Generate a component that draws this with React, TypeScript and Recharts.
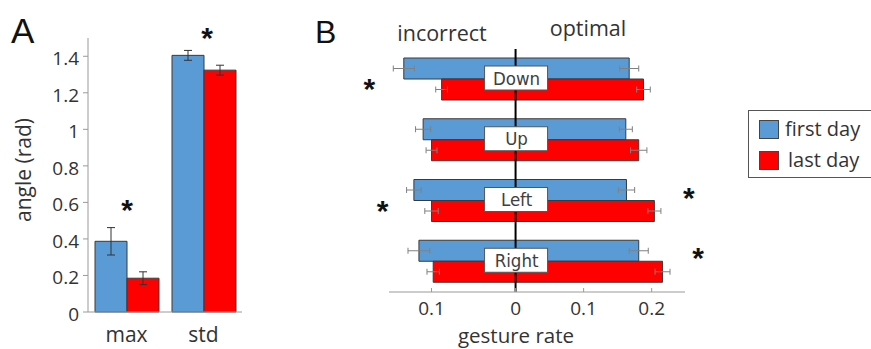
import React from 'react';
import { BarChart, Bar, XAxis, YAxis, ErrorBar, LabelList, ReferenceLine, Legend } from 'recharts';

const BLUE = '#5B9BD5';
const RED = '#FF0000';
const TEXT = '#333333';
const AXIS = '#9a9a9a';
const FONT = "'Open Sans', sans-serif";

// panel A: joint angle
const measures = ['max', 'std'];
const firstDayAngle = [0.387, 1.405];
const firstDayAngleErr = [0.075, 0.027];
const lastDayAngle = [0.185, 1.324];
const lastDayAngleErr = [0.035, 0.027];
const angleSignificant = [true, true];
const angleTicks = [0, 0.2, 0.4, 0.6, 0.8, 1, 1.2, 1.4];

// panel B: gesture rate per direction
const directions = ['Down', 'Up', 'Left', 'Right'];
const firstIncorrect = [0.133, 0.11, 0.121, 0.115];
const firstIncorrectErr = [0.0125, 0.009, 0.0087, 0.013];
const lastIncorrect = [0.088, 0.1, 0.1, 0.098];
const lastIncorrectErr = [0.007, 0.0065, 0.008, 0.0074];
const firstOptimal = [0.167, 0.162, 0.163, 0.181];
const firstOptimalErr = [0.014, 0.0096, 0.012, 0.014];
const lastOptimal = [0.188, 0.181, 0.204, 0.216];
const lastOptimalErr = [0.01, 0.012, 0.0096, 0.011];
const incorrectSignificant = [true, false, true, false];
const optimalSignificant = [false, false, true, true];
const incorrectTicks = [0.1];
const optimalTicks = [0, 0.1, 0.2];

// the incorrect half of the axis is drawn wider than the optimal half in the figure
const INCORRECT_SCALE = 1.235;

const legendItems = [
  { label: 'first day', color: BLUE },
  { label: 'last day', color: RED },
];

const angleData = measures.map((name, i) => ({
  name,
  firstDay: firstDayAngle[i],
  firstDayErr: firstDayAngleErr[i],
  lastDay: lastDayAngle[i],
  lastDayErr: lastDayAngleErr[i],
  sig: angleSignificant[i],
}));

const rateData = directions.map((name, i) => ({
  name,
  firstIncorrect: -firstIncorrect[i] * INCORRECT_SCALE,
  firstIncorrectErr: firstIncorrectErr[i] * INCORRECT_SCALE,
  lastIncorrect: -lastIncorrect[i] * INCORRECT_SCALE,
  lastIncorrectErr: lastIncorrectErr[i] * INCORRECT_SCALE,
  firstOptimal: firstOptimal[i],
  firstOptimalErr: firstOptimalErr[i],
  lastOptimal: lastOptimal[i],
  lastOptimalErr: lastOptimalErr[i],
  incorrectSig: incorrectSignificant[i],
  optimalSig: optimalSignificant[i],
}));

const rateTicks = [...incorrectTicks.map(t => -t * INCORRECT_SCALE), ...optimalTicks];

const formatRate = (v: number) => {
  if (v < 0) return (-v / INCORRECT_SCALE).toFixed(1);
  return String(v);
};

const Star = ({ x, y }: { x: number; y: number }) => (
  <text x={x} y={y + 12} textAnchor="middle" fontFamily="'Liberation Sans', sans-serif" fontWeight="bold" fontSize={30} fill="#111">
    *
  </text>
);

const getBox = (props: any) => {
  const vb = props.viewBox ?? props;
  return { x: vb.x ?? props.x, y: vb.y ?? props.y, width: vb.width ?? props.width, height: vb.height ?? props.height };
};

const renderAngleStar = (props: any) => {
  const { x, y, width, height } = getBox(props);
  const row = angleData[props.index];
  if (!row || !row.sig) return null;
  const unit = height / row.firstDay;
  const top = y - unit * row.firstDayErr;
  // the star over the tall pair sits closer to its error bar
  return <Star x={x + width + (row.firstDay > 1 ? 3 : 0)} y={top - 20 + (row.firstDay > 1 ? 6 : 0)} />;
};

const renderDirectionMarks = (props: any) => {
  const { x, y, width } = getBox(props);
  const row = rateData[props.index];
  if (!row) return null;
  const unit = width / row.lastOptimal;
  const leftEnd = x - unit * Math.max(-row.firstIncorrect + row.firstIncorrectErr, -row.lastIncorrect + row.lastIncorrectErr);
  const rightEnd = x + unit * Math.max(row.firstOptimal + row.firstOptimalErr, row.lastOptimal + row.lastOptimalErr);
  return (
    <g>
      <rect x={x - 31} y={y - 13} width={63} height={24} fill="#fff" stroke="#555" strokeWidth={1} />
      <text x={x + 1} y={y - 1} textAnchor="middle" dominantBaseline="central" fontFamily="'DejaVu Sans Condensed', 'Open Sans', sans-serif" fontSize={18.5} fill="#404040">
        {row.name}
      </text>
      {row.incorrectSig && <Star x={leftEnd - 24} y={y + 8} />}
      {row.optimalSig && <Star x={rightEnd + 28} y={y - 5} />}
    </g>
  );
};

const renderLegend = () => (
  <div style={{ position: 'relative', width: 140, height: 68, border: '1.5px solid #555', boxSizing: 'border-box', background: '#fff', fontFamily: FONT }}>
    {legendItems.map((item, i) => (
      <React.Fragment key={item.label}>
        <div style={{ position: 'absolute', left: 9.5, top: 9 + i * 31, width: 20, height: 19, background: item.color, border: '1px solid #444', boxSizing: 'border-box' }} />
        <div style={{ position: 'absolute', left: 36 + i * 3, top: 8 + i * 31, fontSize: 20, lineHeight: '20px', color: TEXT, whiteSpace: 'nowrap' }}>
          {item.label}
        </div>
      </React.Fragment>
    ))}
  </div>
);

const App: React.FC = () => {
  return (
    <div style={{ position: 'absolute', left: 0, top: 0, width: 871, height: 349, overflow: 'hidden', background: '#fff', fontFamily: FONT }}>
      <div style={{ position: 'absolute', left: 0, top: 0 }}>
        <BarChart width={260} height={349} data={angleData} barCategoryGap={7} barGap={0} margin={{ top: 38, right: 18, bottom: 0, left: 0 }}>
          <XAxis dataKey="name" stroke={AXIS} tickLine={false} tickSize={0} tickMargin={15} height={37} tick={{ fill: TEXT, fontSize: 21, fontFamily: FONT }} />
          <YAxis type="number" domain={[0, 1.5]} ticks={angleTicks} width={88} stroke={AXIS} tickSize={5} tickMargin={4} tick={{ fill: TEXT, fontSize: 19, fontFamily: FONT, dy: 2 }} />
          <Bar dataKey="firstDay" fill={BLUE} stroke="#3a3a3a" strokeWidth={1} isAnimationActive={false}>
            <ErrorBar dataKey="firstDayErr" width={4} stroke="#333" strokeWidth={1} isAnimationActive={false} />
            <LabelList dataKey="firstDay" content={renderAngleStar} />
          </Bar>
          <Bar dataKey="lastDay" fill={RED} stroke="#3a3a3a" strokeWidth={1} isAnimationActive={false}>
            <ErrorBar dataKey="lastDayErr" width={4} stroke="#333" strokeWidth={1} isAnimationActive={false} />
          </Bar>
          <text x={11} y={43} fontFamily="'Liberation Sans', sans-serif" fontSize={35} fill="#111">A</text>
          <text transform="translate(31,170) rotate(-90)" textAnchor="middle" fontFamily={FONT} fontSize={21} fill={TEXT}>angle (rad)</text>
        </BarChart>
      </div>
      <div style={{ position: 'absolute', left: 300, top: 0 }}>
        <BarChart width={571} height={349} data={rateData} layout="vertical" stackOffset="sign" barCategoryGap={9} barGap={0} margin={{ top: 49, right: 186, bottom: 0, left: 89 }}>
          <XAxis type="number" domain={[-0.186, 0.249]} allowDataOverflow ticks={rateTicks} tickFormatter={formatRate} stroke={AXIS} tickSize={-4} tickMargin={13.5} height={57} tick={{ fill: TEXT, fontSize: 19, fontFamily: FONT }} />
          <YAxis type="category" dataKey="name" hide width={0} />
          <Bar dataKey="firstIncorrect" stackId="first" fill={BLUE} stroke="#3a3a3a" strokeWidth={1} isAnimationActive={false}>
            <ErrorBar dataKey="firstIncorrectErr" direction="x" width={3} stroke="#808080" strokeWidth={1} isAnimationActive={false} />
          </Bar>
          <Bar dataKey="firstOptimal" stackId="first" fill={BLUE} stroke="#3a3a3a" strokeWidth={1} isAnimationActive={false}>
            <ErrorBar dataKey="firstOptimalErr" direction="x" width={3} stroke="#808080" strokeWidth={1} isAnimationActive={false} />
          </Bar>
          <Bar dataKey="lastIncorrect" stackId="last" fill={RED} stroke="#3a3a3a" strokeWidth={1} isAnimationActive={false}>
            <ErrorBar dataKey="lastIncorrectErr" direction="x" width={3} stroke="#808080" strokeWidth={1} isAnimationActive={false} />
          </Bar>
          <Bar dataKey="lastOptimal" stackId="last" fill={RED} stroke="#3a3a3a" strokeWidth={1} isAnimationActive={false}>
            <ErrorBar dataKey="lastOptimalErr" direction="x" width={3} stroke="#808080" strokeWidth={1} isAnimationActive={false} />
            <LabelList dataKey="name" content={renderDirectionMarks} />
          </Bar>
          <ReferenceLine x={0} stroke="#000" strokeWidth={2} />
          <text x={15} y={43} fontFamily="'Liberation Sans', sans-serif" fontSize={32} fill="#111">B</text>
          <text x={142} y={41} textAnchor="middle" fontFamily={FONT} fontSize={21.5} fill={TEXT}>incorrect</text>
          <text x={288} y={36} textAnchor="middle" fontFamily={FONT} fontSize={21.5} fill={TEXT}>optimal</text>
          <text x={216} y={342.5} textAnchor="middle" fontFamily={FONT} fontSize={20.5} fill={TEXT}>gesture rate</text>
          <Legend layout="horizontal" verticalAlign="middle" align="center" content={renderLegend} wrapperStyle={{ left: 448, top: 110, width: 140 }} />
        </BarChart>
      </div>
    </div>
  );
};

export default App;
